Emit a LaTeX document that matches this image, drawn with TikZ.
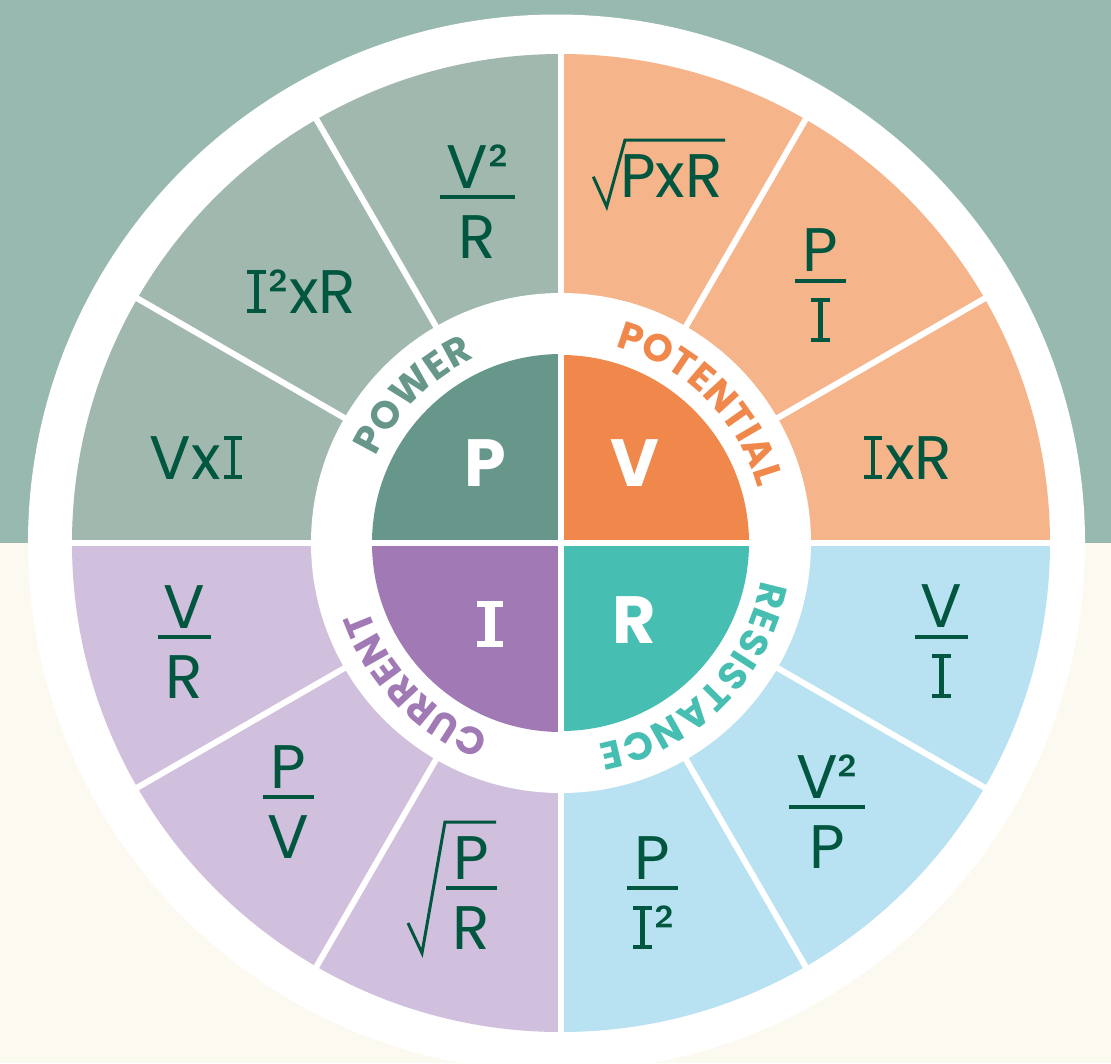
\documentclass[tikz,border=0pt]{standalone}
\usepackage{fontspec}
\setmainfont{Poppins}
\usetikzlibrary{decorations.text}
\definecolor{bgtop}{HTML}{98B9B0}
\definecolor{cream}{HTML}{FCF9F0}
\definecolor{powerout}{HTML}{A1B8AF}
\definecolor{powercore}{HTML}{67978A}
\definecolor{voltout}{HTML}{F6B48B}
\definecolor{voltcore}{HTML}{F0874B}
\definecolor{resout}{HTML}{B8E2F1}
\definecolor{rescore}{HTML}{46BFB2}
\definecolor{curout}{HTML}{D0BFDD}
\definecolor{curcore}{HTML}{A17AB5}
\definecolor{ink}{HTML}{00563F}
% slab I, thin and bold
\newcommand{\Ithin}{\mbox{\kern0.05em\rlap{\rule{0.3em}{0.065em}}\rlap{\raisebox{0.635em}{\rule{0.3em}{0.065em}}}\kern0.115em\rule{0.07em}{0.7em}\kern0.115em\kern0.05em}}
\newcommand{\Ibold}{\mbox{\kern0.04em\rlap{\rule{0.4em}{0.1em}}\rlap{\raisebox{0.6em}{\rule{0.4em}{0.1em}}}\kern0.125em\rule{0.15em}{0.7em}\kern0.125em\kern0.04em}}
\newcommand{\lblfont}{\bfseries\fontsize{22}{25}\selectfont}
\begin{document}
\begin{tikzpicture}[x=0.02cm,y=0.02cm,
    fml/.style={text=ink,font=\fontsize{35}{40}\selectfont,inner sep=0pt,anchor=base},
    big/.style={text=white,font=\bfseries\fontsize{38}{40}\selectfont,inner sep=0pt},
    gap/.style={white,line width=0.12cm},
    bar/.style={ink,line width=0.08cm},
    root/.style={ink,line width=0.06cm,line join=miter},
    ring/.style={decorate,decoration={text along path,text align=fit to path,text color=#1}}]
\useasboundingbox (-561,-520) rectangle (550,543);
\fill[bgtop] (-561,0) rectangle (550,543);
\fill[cream] (-561,-520) rectangle (550,0);
\fill[white] (-4.5,0) circle[radius=528.5];
% outer sectors
\fill[voltout] (0,0) -- (90:489) arc[start angle=90,end angle=0,radius=489] -- cycle;
\fill[powerout] (0,0) -- (180:489) arc[start angle=180,end angle=90,radius=489] -- cycle;
\fill[curout] (0,0) -- (270:489) arc[start angle=270,end angle=180,radius=489] -- cycle;
\fill[resout] (0,0) -- (0:489) arc[start angle=0,end angle=-90,radius=489] -- cycle;
\fill[white] (0,0) circle[radius=250];
% inner quarters
\fill[voltcore] (0,0) -- (90:188) arc[start angle=90,end angle=0,radius=188] -- cycle;
\fill[powercore] (0,0) -- (180:189) arc[start angle=180,end angle=90,radius=189] -- cycle;
\fill[curcore] (0,0) -- (270:189) arc[start angle=270,end angle=180,radius=189] -- cycle;
\fill[rescore] (0,0) -- (0:188) arc[start angle=0,end angle=-90,radius=188] -- cycle;
\foreach \a in {30,60,120,150,210,240,300,330}
  \draw[gap] (\a:240) -- (\a:495);
\draw[gap] (-495,0) -- (495,0);
\draw[gap] (0,-495) -- (0,495);
% quantities
\node[big] (p) at (-76,80) {P};
\node[big] (v) at (74,80) {V};
\node[big] (i) at (-71,-81) {\Ibold};
\node[big] (r) at (73,-77.5) {R};
\path[ring=powercore,decoration={text={|\lblfont|POWER}}] (155:204) arc[start angle=155,end angle=115,radius=204];
\path[ring=voltcore,decoration={text={|\lblfont|POTENTIAL}}] (74.5:204) arc[start angle=74.5,end angle=15.5,radius=204];
\path[ring=rescore,decoration={text={|\lblfont|RESISTANCE}}] (-10.5:204) arc[start angle=-10.5,end angle=-79.5,radius=204];
\path[ring=curcore,decoration={text={|\lblfont|CURRENT}}] (-110.5:204) arc[start angle=-110.5,end angle=-160,radius=204];
% power
\node[fml] (vxi) at (-363.5,64) {Vx\Ithin};
\node[fml] (isqr) at (-261,230) {\Ithin²xR};
\node[fml] (vsqr-n) at (-83.5,355) {V²};
\draw[bar] (-121,346) -- (-46,346);
\node[fml] (vsqr-d) at (-83.5,285) {R};
% potential
\node[fml] (pxr) at (110.5,346) {PxR};
\draw[root] (32.3,366.3) -- (45.7,336.3) -- (64,403) -- (164,403);
\node[fml] (pi-n) at (259.5,271.5) {P};
\draw[bar] (234,262.5) -- (285,262.5);
\node[fml] (pi-d) at (259.5,201.5) {\Ithin};
\node[fml] (ixr) at (345.5,64) {\Ithin xR};
% resistance
\node[fml] (vi-n) at (380.5,-84.5) {V};
\draw[bar] (354,-93.5) -- (407,-93.5);
\node[fml] (vi-d) at (380.5,-154.5) {\Ithin};
\node[fml] (vsqp-n) at (266,-255) {V²};
\draw[bar] (228,-264) -- (304,-264);
\node[fml] (vsqp-d) at (266,-325) {P};
\node[fml] (pisq-n) at (91.5,-336) {P};
\draw[bar] (66,-345) -- (117,-345);
\node[fml] (pisq-d) at (91.5,-406) {\Ithin²};
% current
\node[fml] (pr-n) at (-89.5,-336) {P};
\draw[bar] (-115,-345) -- (-64,-345);
\node[fml] (pr-d) at (-89.5,-406) {R};
\draw[root] (-153,-380) -- (-139,-410) -- (-116,-279) -- (-65,-279);
\node[fml] (pv-n) at (-272.5,-245) {P};
\draw[bar] (-298,-254) -- (-247,-254);
\node[fml] (pv-d) at (-272.5,-315) {V};
\node[fml] (vr-n) at (-376.5,-85) {V};
\draw[bar] (-403,-94) -- (-350,-94);
\node[fml] (vr-d) at (-376.5,-155) {R};
\end{tikzpicture}
\end{document}
